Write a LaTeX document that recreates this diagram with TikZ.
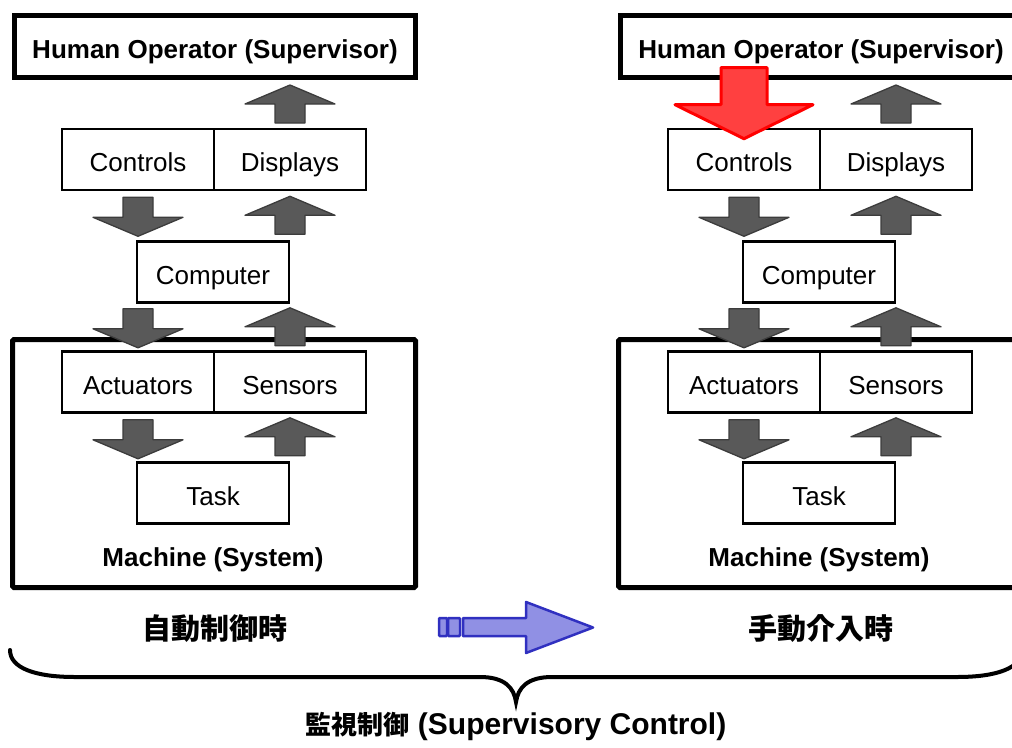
\documentclass[tikz,border=0pt]{standalone}
\usepackage{fontspec}
\setmainfont{Liberation Sans}
\newfontfamily\cjk{Noto Sans CJK JP}
\usepackage{tikz}
\usetikzlibrary{calc}
\usepackage{xcolor}
\definecolor{flowfill}{RGB}{89,89,89}
\definecolor{flowedge}{RGB}{60,60,60}
\definecolor{manualfill}{RGB}{255,64,64}
\definecolor{manualedge}{RGB}{255,0,0}
\definecolor{switchfill}{RGB}{144,144,228}
\definecolor{switchedge}{RGB}{48,48,192}

\tikzset{
    panelbox/.style={draw, line width=2.6pt, minimum width=152pt, minimum height=61pt,
        inner sep=0pt, text height=24pt, text depth=0pt, font=\fontsize{26}{30}\selectfont},
    outerbox/.style={line width=5pt, rounded corners=1.5pt},
    flowarrow/.style={draw=flowedge, fill=flowfill, line width=1.3pt, line join=round},
    flowdown/.pic={\draw[flowarrow] (-15,0) -- (15,0) -- (15,20) -- (45,20) -- (0,39)
        -- (-45,20) -- (-15,20) -- cycle;},
    flowup/.pic={\draw[flowarrow] (0,0) -- (45,19) -- (15,19) -- (15,38) -- (-15,38)
        -- (-15,19) -- (-45,19) -- cycle;}
}

\begin{document}
\begin{tikzpicture}[x=1pt, y=-1pt]
    \useasboundingbox (0,0) rectangle (1012,747);
    \clip (0,0) rectangle (1012,747);

    % The two panels: automatic control and manual intervention
    \foreach \p/\dx/\mode in {L/0/自動制御時, R/606/手動介入時} {
    \begin{scope}[xshift=\dx pt]
        \node[draw, line width=5pt, minimum width=401pt, minimum height=62pt, inner sep=0pt,
            text height=23pt, text depth=0pt,
            font=\bfseries\fontsize{26}{30}\selectfont] (\p-hum) at (215,46.5)
            {Human Operator (Supervisor)};
        \node[panelbox] (\p-ctrl) at (138,159.5) {Controls};
        \node[panelbox] (\p-disp) at (290,159.5) {Displays};
        \node[panelbox] (\p-cpu) at (213,272) {Computer};

        % Machine frame
        \draw[outerbox] (12.5,339.5) rectangle (415.5,587.5);
        \node[font=\bfseries\fontsize{26}{30}\selectfont] (\p-mach) at (213,560) {Machine (System)};
        \node[panelbox] (\p-act) at (138,382) {Actuators};
        \node[panelbox] (\p-sens) at (290,382) {Sensors};
        \node[panelbox] (\p-task) at (213,493) {Task};

        % Command and feedback flows
        \pic at ($(\p-disp.north |- \p-hum.south)+(0,5)$) {flowup};
        \pic at ($(\p-ctrl.south)+(0,6)$) {flowdown};
        \pic at ($(\p-disp.south)+(0,5)$) {flowup};
        \pic at ($(\p-act.north |- \p-cpu.south)+(0,5)$) {flowdown};
        \pic at ($(\p-sens.north |- \p-cpu.south)+(0,4)$) {flowup};
        \pic at ($(\p-act.south)+(0,6)$) {flowdown};
        \pic at ($(\p-sens.south)+(0,4)$) {flowup};

        \node[font=\cjk\bfseries\fontsize{29}{32}\selectfont] (\p-mode) at (215,629) {\mode};
    \end{scope}
    }

    % Operator takes over the controls
    \draw[manualedge, fill=manualfill, line width=3pt, line join=round, shift={(R-ctrl.north)}]
        (-23,-60) -- (23,-60) -- (23,-23) -- (69,-23) -- (0,11) -- (-69,-23) -- (-23,-23) -- cycle;

    % Switch from automatic to manual
    \draw[switchedge, fill=switchfill, line width=2.5pt, rounded corners=1pt]
        (439,618) rectangle (447,636);
    \draw[switchedge, fill=switchfill, line width=2.5pt, rounded corners=1pt]
        (448,618) rectangle (460,636);
    \draw[switchedge, fill=switchfill, line width=2.5pt, line join=round]
        (463,618) -- (526,618) -- (526,602) -- (593,627.5) -- (526,653) -- (526,636)
        -- (463,636) -- cycle;

    % Brace under both panels
    \draw[line width=4pt, line cap=round]
        (10,650) .. controls (10,668) and (35,677) .. (75,677) -- (480,677)
        .. controls (505,677) and (514,688) .. (516,702)
        .. controls (518,688) and (527,677) .. (552,677) -- (957,677)
        .. controls (997,677) and (1022,668) .. (1022,650);
    \node[font=\bfseries\fontsize{30}{34}\selectfont] (title) at (516,726)
        {{\cjk\fontsize{26}{30}\selectfont 監視制御} (Supervisory Control)};
\end{tikzpicture}
\end{document}
